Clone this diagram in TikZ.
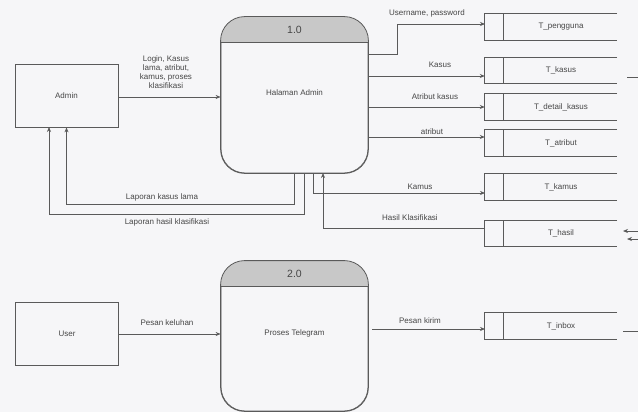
\documentclass[tikz,border=0pt]{standalone}
\usepackage{fontspec}
\setmainfont{Liberation Sans}
\usetikzlibrary{arrows.meta,calc}
\definecolor{bg}{RGB}{246,246,248}
\definecolor{ln}{RGB}{90,90,90}
\definecolor{tx}{RGB}{70,70,70}
\definecolor{hd}{RGB}{200,200,200}
\tikzset{
  ent/.style={draw=ln,line width=0.8pt,minimum width=103pt,minimum height=63pt,inner sep=0pt,font=\fontsize{8}{9.5}\selectfont,text=tx},
  proc/.style={draw=ln,line width=0.8pt,rounded corners=24pt,minimum width=147pt,inner sep=0pt},
  storebox/.style={minimum width=132pt,minimum height=26pt,inner sep=0pt},
  lbl/.style={font=\fontsize{8}{9}\selectfont,text=tx,inner sep=1pt,align=center},
  flow/.style={draw=ln,line width=0.7pt},
  arr/.style={flow,-{Stealth[length=5pt,width=4pt]}},
}
\begin{document}
\begin{tikzpicture}[x=1pt,y=-1pt]
\fill[bg] (0,0) rectangle (638,412);
\useasboundingbox (0,0) rectangle (638,412);

% external entities
\node[ent] (admin) at (66.5,95.5) {Admin};
\node[ent] (user) at (67,334) {User};

% processes
\node[proc,minimum height=156pt] (p1) at (294.5,95) {};
\node[proc,minimum height=150pt] (p2) at (294.5,336) {};
\foreach \p in {p1,p2}{
  \begin{scope}
    \clip[rounded corners=24pt] (\p.north west) rectangle (\p.south east);
    \fill[hd] (\p.north west) rectangle ($(\p.north east)+(0,26)$);
  \end{scope}
  \draw[ln,line width=0.8pt,rounded corners=24pt] (\p.north west) rectangle (\p.south east);
  \draw[ln,line width=0.8pt] ($(\p.north west)+(0,26)$) -- ($(\p.north east)+(0,26)$);
}
\node[font=\fontsize{10.5}{12}\selectfont,text=tx] (p1n) at (294.5,30) {1.0};
\node[font=\fontsize{10.5}{12}\selectfont,text=tx] (p2n) at (294.5,274) {2.0};
\node[lbl] (p1t) at (294.5,93) {Halaman Admin};
\node[lbl] (p2t) at (294.5,333) {Proses Telegram};

% data stores
\node[storebox] (s1) at (551,27) {};
\node[storebox] (s2) at (551,70.5) {};
\node[storebox] (s3) at (551,107) {};
\node[storebox] (s4) at (551,143) {};
\node[storebox] (s5) at (551,187) {};
\node[storebox] (s6) at (551,233.5) {};
\node[storebox] (s7) at (551,326) {};
\foreach \s/\t in {s1/T\_pengguna,s2/T\_kasus,s3/T\_detail\_kasus,s4/T\_atribut,s5/T\_kamus,s6/T\_hasil,s7/T\_inbox}{
  \draw[flow] (\s.north east) -- (\s.north west) -- (\s.south west) -- (\s.south east);
  \draw[flow] ($(\s.north west)+(19,0)$) -- ($(\s.south west)+(19,0)$);
  \node[lbl] (\s t) at ($(\s.center)+(10,0)$) {\t};
}

% coordinates
\coordinate (c1a) at (294.5,204);
\coordinate (c1b) at (66.5,204);
\coordinate (c2s) at (304,173);
\coordinate (c2a) at (304,214);
\coordinate (c2b) at (49,214);
\coordinate (c2e) at (49,127);
\coordinate (u0) at (368,54);
\coordinate (u1) at (397,54);
\coordinate (u2) at (397,24);
\coordinate (u3) at (485,24);
\coordinate (k0) at (313,173);
\coordinate (k1) at (313,193);
\coordinate (k2) at (485,193);
\coordinate (h0) at (485,228);
\coordinate (h1) at (323,228);
\coordinate (h2) at (323,173);
\coordinate (i0) at (372,329);
\coordinate (i1) at (485,329);
\coordinate (r1a) at (627,77);
\coordinate (r1b) at (638,77);
\coordinate (r2a) at (638,231);
\coordinate (r2b) at (623,231);
\coordinate (r3a) at (638,239);
\coordinate (r3b) at (627,239);
\coordinate (r4a) at (623,331);
\coordinate (r4b) at (638,331);

% flows
\draw[arr] (admin.east |- 0,97) -- (p1.west |- 0,97);
\draw[arr] (p1.south) -- (c1a) -- (c1b) -- (admin.south);
\draw[arr] (c2s) -- (c2a) -- (c2b) -- (c2e);
\draw[arr] (u0) -- (u1) -- (u2) -- (u3);
\draw[arr] (p1.east |- 0,76) -- (s2.west |- 0,76);
\draw[arr] (p1.east |- 0,107) -- (s3.west);
\draw[arr] (p1.east |- 0,137) -- (s4.west |- 0,137);
\draw[arr] (k0) -- (k1) -- (k2);
\draw[arr] (h0) -- (h1) -- (h2);
\draw[arr] (user.east) -- (user.east -| p2.west);
\draw[arr] (i0) -- (i1);
\draw[flow] (r1a) -- (r1b);
\draw[arr] (r2a) -- (r2b);
\draw[arr] (r3a) -- (r3b);
\draw[flow] (r4a) -- (r4b);

% labels
\node[lbl] (l1) at (166,72) {Login, Kasus\\lama, atribut,\\kamus, proses\\klasifikasi};
\node[lbl] (l2) at (162,197) {Laporan kasus lama};
\node[lbl] (l3) at (167,222) {Laporan hasil klasifikasi};
\node[lbl] (l4) at (427,13) {Username, password};
\node[lbl] (l5) at (440,65) {Kasus};
\node[lbl] (l6) at (435,97) {Atribut kasus};
\node[lbl] (l7) at (432,132) {atribut};
\node[lbl] (l8) at (420,187) {Kamus};
\node[lbl] (l9) at (410,218) {Hasil Klasifikasi};
\node[lbl] (l10) at (167,323) {Pesan keluhan};
\node[lbl] (l11) at (420,321) {Pesan kirim};
\end{tikzpicture}
\end{document}
